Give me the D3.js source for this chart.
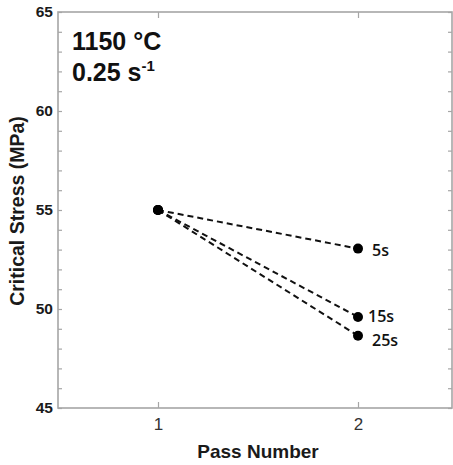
<!DOCTYPE html>
<html>
<head>
<meta charset="utf-8">
<script src="https://cdn.jsdelivr.net/npm/d3@7"></script>
<style>
html,body{margin:0;padding:0;background:#fff;}
svg{display:block;}
</style>
</head>
<body>
<svg id="chart" width="453" height="465"></svg>
<script>
const passes = [1, 2];
const seriesNames = ["5s", "15s", "25s"];
const pass1Values = [55, 55, 55];
const pass2Values = [53.05, 49.6, 48.65];
const yTicks = [45, 50, 55, 60, 65];
const xTicks = [1, 2];

(function () {
const pLeft = 58, pRight = 452, pTop = 12, pBottom = 408;
const svg = d3.select("#chart");
const x = d3.scaleLinear().domain([0.5, 2.47]).range([pLeft, pRight]);
const y = d3.scaleLinear().domain([45, 65]).range([pBottom, pTop]);
const axisColor = "#a6a6a6";

svg.append("rect").attr("x", pLeft).attr("y", pTop).attr("width", pRight - pLeft).attr("height", pBottom - pTop)
  .attr("fill", "none").attr("stroke", axisColor).attr("stroke-width", 1.6);

const minor = d3.range(45, 66, 1);
const gl = svg.append("g").attr("transform", `translate(${pLeft},0)`)
  .call(d3.axisRight(y).tickValues(minor).tickSize(4).tickFormat(""));
gl.select(".domain").remove();
gl.selectAll("line").attr("stroke", axisColor).attr("stroke-width", 1.2);
const gr = svg.append("g").attr("transform", `translate(${pRight},0)`)
  .call(d3.axisLeft(y).tickValues(minor).tickSize(4).tickFormat(""));
gr.select(".domain").remove();
gr.selectAll("line").attr("stroke", axisColor).attr("stroke-width", 1.2);
const gyl = svg.append("g").attr("transform", `translate(${pLeft},0)`)
  .call(d3.axisLeft(y).tickValues(yTicks).tickSize(0).tickPadding(5).tickFormat(d3.format("d")));
gyl.select(".domain").remove();
gyl.selectAll("text").attr("font-family", "Liberation Sans, Arial, sans-serif")
  .attr("font-weight", "bold").attr("font-size", 15.5).attr("fill", "#1a1a1a");

const gb = svg.append("g").attr("transform", `translate(0,${pBottom})`)
  .call(d3.axisTop(x).tickValues(xTicks).tickSize(6).tickFormat(""));
gb.select(".domain").remove();
gb.selectAll("line").attr("stroke", axisColor).attr("stroke-width", 1.2);
const gt = svg.append("g").attr("transform", `translate(0,${pTop})`)
  .call(d3.axisBottom(x).tickValues(xTicks).tickSize(6).tickFormat(""));
gt.select(".domain").remove();
gt.selectAll("line").attr("stroke", axisColor).attr("stroke-width", 1.2);
const gxl = svg.append("g").attr("transform", `translate(0,${pBottom})`)
  .call(d3.axisBottom(x).tickValues(xTicks).tickSize(0).tickPadding(10).tickFormat(d3.format("d")));
gxl.select(".domain").remove();
gxl.selectAll("text").attr("font-family", "Liberation Sans, Arial, sans-serif")
  .attr("font-size", 17).attr("fill", "#333");

svg.append("text").attr("x", (x(1) + x(2)) / 2).attr("y", 458)
  .attr("text-anchor", "middle").attr("font-family", "Liberation Sans, Arial, sans-serif")
  .attr("font-weight", "bold").attr("font-size", 19).attr("fill", "#1a1a1a").text("Pass Number");
svg.append("text").attr("transform", `translate(24,${(105 + 317) / 2}) rotate(-90)`)
  .attr("text-anchor", "middle").attr("font-family", "Liberation Sans, Arial, sans-serif")
  .attr("font-weight", "bold").attr("font-size", 19.5).attr("fill", "#1a1a1a").text("Critical Stress (MPa)");

const ann = svg.append("g").attr("font-family", "Liberation Sans, Arial, sans-serif")
  .attr("font-weight", "bold").attr("fill", "#111");
ann.append("text").attr("x", 72).attr("y", 50).attr("font-size", 25).text("1150 °C");
const t2 = ann.append("text").attr("x", 72).attr("y", 81).attr("font-size", 25);
t2.append("tspan").text("0.25 s");
t2.append("tspan").attr("font-size", 15).attr("dy", -10).text("-1");

const data = seriesNames.map((n, i) => ({ name: n, v: [pass1Values[i], pass2Values[i]] }));
const line = d3.line().x((d, i) => x(passes[i])).y(d => y(d));
svg.append("g").selectAll("path").data(data).join("path")
  .attr("d", d => line(d.v)).attr("fill", "none").attr("stroke", "#111")
  .attr("stroke-width", 2).attr("stroke-dasharray", "6,4");
const pts = [];
data.forEach(d => d.v.forEach((v, i) => pts.push({ p: passes[i], v })));
svg.append("g").selectAll("circle").data(pts).join("circle")
  .attr("cx", d => x(d.p)).attr("cy", d => y(d.v)).attr("r", 5).attr("fill", "#000");

const labelDy = [7, 5, 10];
const labelDx = [14, 10, 14];
svg.append("g").selectAll("text").data(data).join("text")
  .attr("x", (d, i) => x(2) + labelDx[i]).attr("y", (d, i) => y(d.v[1]) + labelDy[i])
  .attr("font-family", "Open Sans, sans-serif").attr("font-weight", 600)
  .attr("font-size", 16).attr("fill", "#111").text(d => d.name);
})();
</script>
</body>
</html>
